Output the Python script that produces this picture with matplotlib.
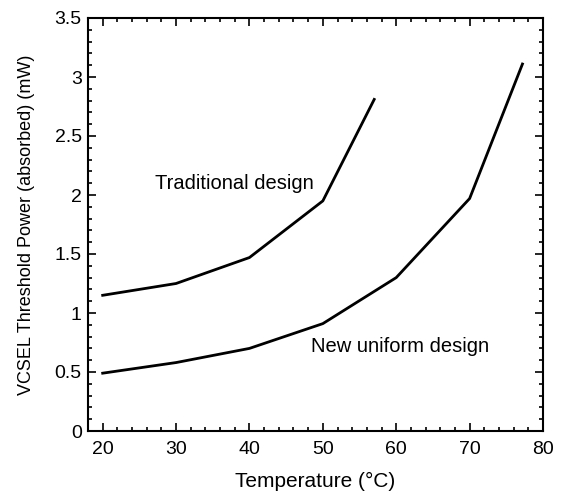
import matplotlib
matplotlib.use("Agg")
import matplotlib.pyplot as plt
from matplotlib.ticker import MultipleLocator

plt.rcParams['font.family'] = ['Liberation Sans', 'DejaVu Sans']

trad_x = [20, 30, 40, 50, 57]
trad_y = [1.15, 1.25, 1.47, 1.95, 2.81]
new_x = [20, 30, 40, 50, 60, 70, 77.2]
new_y = [0.49, 0.58, 0.70, 0.91, 1.30, 1.97, 3.11]

fig = plt.figure(figsize=(5.62, 4.91), dpi=100)
ax = fig.add_axes([88/562, 1 - 431/491, (543-88)/562, (431-18)/491])

ax.plot(trad_x, trad_y, color='black', lw=2)
ax.plot(new_x, new_y, color='black', lw=2)

ax.set_xlim(18, 80)
ax.set_ylim(0, 3.5)
ax.xaxis.set_major_locator(MultipleLocator(10))
ax.xaxis.set_minor_locator(MultipleLocator(2))
ax.yaxis.set_minor_locator(MultipleLocator(0.1))
ax.set_yticks([0, 0.5, 1, 1.5, 2, 2.5, 3, 3.5])
ax.set_yticklabels(['0', '0.5', '1', '1.5', '2', '2.5', '3', '3.5'])
ax.tick_params(which='both', direction='in', top=True, right=True, labelsize=14, width=1.2)
ax.tick_params(which='major', length=6)
ax.tick_params(which='minor', length=3)
ax.tick_params(axis='x', which='major', pad=7)
ax.tick_params(axis='y', which='major', pad=4.5)
for s in ax.spines.values():
    s.set_linewidth(1.5)

ax.set_xlabel('Temperature (°C)', fontsize=15, labelpad=10)
ax.set_ylabel('VCSEL Threshold Power (absorbed) (mW)', fontsize=13, labelpad=14)

ax.text(37.9, 2.10, 'Traditional design', fontsize=14.5, ha='center', va='center')
ax.text(60.5, 0.72, 'New uniform design', fontsize=14.5, ha='center', va='center')

fig.savefig('out.png', dpi=100)
